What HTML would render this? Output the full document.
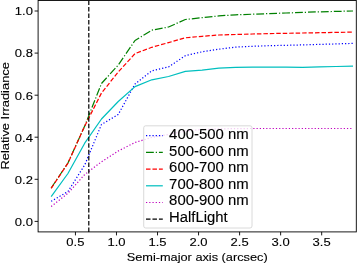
<!DOCTYPE html>
<html><head><meta charset="utf-8"><style>
html,body{margin:0;padding:0;background:#fff;width:357px;height:263px;overflow:hidden}
svg{display:block;will-change:transform;font-family:"Liberation Sans", sans-serif;fill:#000}
text{font-family:"Liberation Sans", sans-serif;fill:#000;stroke:#000;stroke-width:0.12px}
</style></head><body>
<svg width="357" height="263" viewBox="0 0 357 263">
<rect x="0" y="0" width="357" height="263" fill="#fff"/>
<defs><clipPath id="ax"><rect x="38.1" y="0.5" width="318.2" height="231.4"/></clipPath></defs>
<g clip-path="url(#ax)" fill="none" stroke-linejoin="round">
<polyline points="51.17,201.30 67.94,191.50 84.71,165.00 101.48,124.50 118.25,114.50 135.02,84.00 151.79,70.80 168.56,66.90 185.33,55.70 202.10,51.80 218.87,49.20 235.64,47.10 252.41,46.30 269.18,45.70 285.95,45.30 302.72,44.90 319.49,44.40 336.26,43.90 353.03,43.40" stroke="#0000ff" stroke-width="1.22" stroke-dasharray="1.22 2.01"/>
<polyline points="51.17,188.00 67.94,163.00 84.71,126.00 101.48,83.50 118.25,65.00 135.02,40.50 151.79,30.20 168.56,27.00 185.33,19.50 202.10,17.70 218.87,15.90 235.64,14.80 252.41,14.20 269.18,13.60 285.95,13.00 302.72,12.40 319.49,11.80 336.26,11.40 353.03,11.00" stroke="#008000" stroke-width="1.22" stroke-dasharray="7.81 1.95 1.22 1.95"/>
<polyline points="51.17,188.30 67.94,163.20 84.71,126.00 101.48,93.00 118.25,72.00 135.02,53.60 151.79,47.30 168.56,42.60 185.33,37.80 202.10,36.30 218.87,35.00 235.64,34.50 252.41,34.00 269.18,33.60 285.95,33.30 302.72,33.00 319.49,32.70 336.26,32.40 353.03,32.10" stroke="#ff0000" stroke-width="1.22" stroke-dasharray="4.51 1.95"/>
<polyline points="51.17,196.70 67.94,173.50 84.71,143.20 101.48,119.00 118.25,101.50 135.02,86.60 151.79,79.80 168.56,76.50 185.33,71.40 202.10,70.20 218.87,68.10 235.64,67.40 252.41,67.20 269.18,67.10 285.95,67.10 302.72,67.30 319.49,66.90 336.26,66.50 353.03,66.10" stroke="#00bfbf" stroke-width="1.22"/>
<polyline points="51.17,206.60 67.94,193.30 84.71,174.50 101.48,161.80 118.25,151.00 135.02,142.50 151.79,137.40 168.56,134.50 185.33,131.00 202.10,129.50 218.87,128.90 235.64,128.60 252.41,128.50 269.18,128.50 285.95,128.50 302.72,128.50 319.49,128.50 336.26,128.50 353.03,128.50" stroke="#bf00bf" stroke-width="1.22" stroke-dasharray="1.22 2.01"/>
<line x1="88.8" y1="231.9" x2="88.8" y2="0.5" stroke="#000" stroke-width="1.22" stroke-dasharray="4.5 1.98"/>
</g>
<rect x="38.1" y="0.5" width="318.2" height="231.4" fill="none" stroke="#000" stroke-width="0.9"/>
<line x1="34.6" y1="221.4" x2="38.1" y2="221.4" stroke="#000" stroke-width="0.9"/>
<text x="32.9" y="225.7" font-size="11.5" text-anchor="end" textLength="18.1" lengthAdjust="spacingAndGlyphs">0.0</text>
<line x1="34.6" y1="179.3" x2="38.1" y2="179.3" stroke="#000" stroke-width="0.9"/>
<text x="32.9" y="183.6" font-size="11.5" text-anchor="end" textLength="18.1" lengthAdjust="spacingAndGlyphs">0.2</text>
<line x1="34.6" y1="137.2" x2="38.1" y2="137.2" stroke="#000" stroke-width="0.9"/>
<text x="32.9" y="141.5" font-size="11.5" text-anchor="end" textLength="18.1" lengthAdjust="spacingAndGlyphs">0.4</text>
<line x1="34.6" y1="95.2" x2="38.1" y2="95.2" stroke="#000" stroke-width="0.9"/>
<text x="32.9" y="99.5" font-size="11.5" text-anchor="end" textLength="18.1" lengthAdjust="spacingAndGlyphs">0.6</text>
<line x1="34.6" y1="53.1" x2="38.1" y2="53.1" stroke="#000" stroke-width="0.9"/>
<text x="32.9" y="57.4" font-size="11.5" text-anchor="end" textLength="18.1" lengthAdjust="spacingAndGlyphs">0.8</text>
<line x1="34.6" y1="11.0" x2="38.1" y2="11.0" stroke="#000" stroke-width="0.9"/>
<text x="32.9" y="15.3" font-size="11.5" text-anchor="end" textLength="18.1" lengthAdjust="spacingAndGlyphs">1.0</text>
<line x1="75.44" y1="231.9" x2="75.44" y2="235.4" stroke="#000" stroke-width="0.9"/>
<text x="75.44" y="246.3" font-size="11.5" text-anchor="middle" textLength="18.1" lengthAdjust="spacingAndGlyphs">0.5</text>
<line x1="116.48" y1="231.9" x2="116.48" y2="235.4" stroke="#000" stroke-width="0.9"/>
<text x="116.48" y="246.3" font-size="11.5" text-anchor="middle" textLength="18.1" lengthAdjust="spacingAndGlyphs">1.0</text>
<line x1="157.52" y1="231.9" x2="157.52" y2="235.4" stroke="#000" stroke-width="0.9"/>
<text x="157.52" y="246.3" font-size="11.5" text-anchor="middle" textLength="18.1" lengthAdjust="spacingAndGlyphs">1.5</text>
<line x1="198.56" y1="231.9" x2="198.56" y2="235.4" stroke="#000" stroke-width="0.9"/>
<text x="198.56" y="246.3" font-size="11.5" text-anchor="middle" textLength="18.1" lengthAdjust="spacingAndGlyphs">2.0</text>
<line x1="239.60" y1="231.9" x2="239.60" y2="235.4" stroke="#000" stroke-width="0.9"/>
<text x="239.60" y="246.3" font-size="11.5" text-anchor="middle" textLength="18.1" lengthAdjust="spacingAndGlyphs">2.5</text>
<line x1="280.64" y1="231.9" x2="280.64" y2="235.4" stroke="#000" stroke-width="0.9"/>
<text x="280.64" y="246.3" font-size="11.5" text-anchor="middle" textLength="18.1" lengthAdjust="spacingAndGlyphs">3.0</text>
<line x1="321.68" y1="231.9" x2="321.68" y2="235.4" stroke="#000" stroke-width="0.9"/>
<text x="321.68" y="246.3" font-size="11.5" text-anchor="middle" textLength="18.1" lengthAdjust="spacingAndGlyphs">3.5</text>
<text x="197.2" y="261" font-size="11.5" text-anchor="middle" textLength="141" lengthAdjust="spacingAndGlyphs">Semi-major axis (arcsec)</text>
<text transform="translate(8.9,115.8) rotate(-90)" x="0" y="0" font-size="11.5" text-anchor="middle" textLength="107.5" lengthAdjust="spacingAndGlyphs">Relative Irradiance</text>
<rect x="143.7" y="125.8" width="108.3" height="102.2" rx="2" ry="2" fill="#fff" fill-opacity="0.8" stroke="#ccc" stroke-opacity="0.8" stroke-width="0.9"/>
<line x1="146" y1="135.7" x2="162.8" y2="135.7" stroke="#0000ff" stroke-width="1.22" stroke-dasharray="1.22 2.01"/>
<text x="169.1" y="139.0" font-size="13.8" textLength="79.5" lengthAdjust="spacingAndGlyphs">400-500 nm</text>
<line x1="146" y1="152.4" x2="162.8" y2="152.4" stroke="#008000" stroke-width="1.22" stroke-dasharray="7.81 1.95 1.22 1.95"/>
<text x="169.1" y="155.6" font-size="13.8" textLength="79.5" lengthAdjust="spacingAndGlyphs">500-600 nm</text>
<line x1="146" y1="169.1" x2="162.8" y2="169.1" stroke="#ff0000" stroke-width="1.22" stroke-dasharray="4.51 1.95"/>
<text x="169.1" y="172.2" font-size="13.8" textLength="79.5" lengthAdjust="spacingAndGlyphs">600-700 nm</text>
<line x1="146" y1="185.8" x2="162.8" y2="185.8" stroke="#00bfbf" stroke-width="1.22"/>
<text x="169.1" y="188.8" font-size="13.8" textLength="79.5" lengthAdjust="spacingAndGlyphs">700-800 nm</text>
<line x1="146" y1="202.5" x2="162.8" y2="202.5" stroke="#bf00bf" stroke-width="1.22" stroke-dasharray="1.22 2.01"/>
<text x="169.1" y="205.4" font-size="13.8" textLength="79.5" lengthAdjust="spacingAndGlyphs">800-900 nm</text>
<line x1="146" y1="219.2" x2="162.8" y2="219.2" stroke="#000000" stroke-width="1.22" stroke-dasharray="4.51 1.95"/>
<text x="169.1" y="222.0" font-size="13.8" textLength="58.5" lengthAdjust="spacingAndGlyphs">HalfLight</text>
</svg>
</body></html>
